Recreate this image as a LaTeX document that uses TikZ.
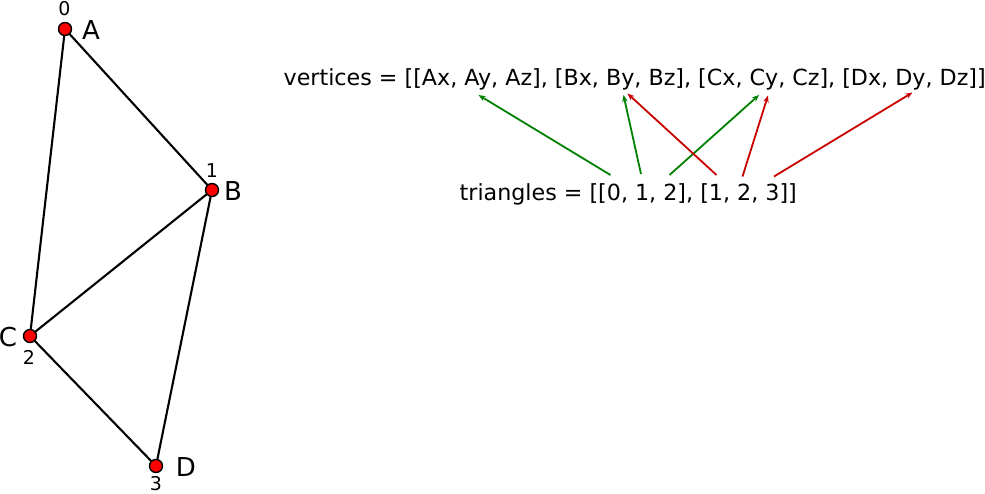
\documentclass[tikz,border=0pt]{standalone}
\usepackage{fontspec}
\setmainfont{DejaVu Sans}
\usetikzlibrary{arrows.meta}
\definecolor{vred}{RGB}{255,0,0}
\definecolor{ared}{RGB}{200,0,0}
\definecolor{agreen}{RGB}{0,128,0}
\tikzset{
  vtx/.style={circle,draw=black,fill=vred,line width=1.4pt,inner sep=0pt,minimum size=13pt},
  edge/.style={line width=2.1pt,black},
  big/.style={font=\fontsize{26}{28}\selectfont,inner sep=0pt},
  idx/.style={font=\fontsize{19}{21}\selectfont,inner sep=0pt},
  code/.style={font=\fontsize{22.2}{24}\selectfont,inner sep=0pt,anchor=base west},
  arr/.style={line width=1.8pt,-{Stealth[length=7pt,width=5.5pt]}},
  garr/.style={arr,agreen},
  rarr/.style={arr,ared}
}
\begin{document}
\begin{tikzpicture}[x=1pt,y=-1pt]
\useasboundingbox (0,0) rectangle (985,493);
\coordinate (pA) at (65,29);
\coordinate (pB) at (212,190);
\coordinate (pC) at (30,336);
\coordinate (pD) at (156,466);
\draw[edge] (pA) -- (pB);
\draw[edge] (pA) -- (pC);
\draw[edge] (pB) -- (pC);
\draw[edge] (pB) -- (pD);
\draw[edge] (pC) -- (pD);
\node[vtx] (A) at (pA) {};
\node[vtx] (B) at (pB) {};
\node[vtx] (C) at (pC) {};
\node[vtx] (D) at (pD) {};
\node[big] (lA) at (91,30) {A};
\node[big] (lB) at (233,191) {B};
\node[big] (lC) at (8,337) {C};
\node[big] (lD) at (186,467) {D};
\node[idx] (n0) at (64.5,9) {0};
\node[idx] (n1) at (212,171) {1};
\node[idx] (n2) at (29,357.5) {2};
\node[idx] (n3) at (156,484) {3};
\node[code] (vert) at (283.5,85) {vertices = [[Ax, Ay, Az], [Bx, By, Bz], [Cx, Cy, Cz], [Dx, Dy, Dz]]};
\node[code] (tri) at (459.5,200) {triangles = [[0, 1, 2], [1, 2, 3]]};
\coordinate (g1s) at (610.5,175);  \coordinate (g1e) at (478.5,95);
\coordinate (g2s) at (641,174);    \coordinate (g2e) at (623.5,95);
\coordinate (g3s) at (669.5,175);  \coordinate (g3e) at (759,95);
\coordinate (r1s) at (716.5,175);  \coordinate (r1e) at (627.5,93.5);
\coordinate (r2s) at (742.5,176.5);\coordinate (r2e) at (768,95.5);
\coordinate (r3s) at (774,176.5);  \coordinate (r3e) at (912.5,92.5);
\draw[garr] (g1s) -- (g1e);
\draw[garr] (g2s) -- (g2e);
\draw[garr] (g3s) -- (g3e);
\draw[rarr] (r1s) -- (r1e);
\draw[rarr] (r2s) -- (r2e);
\draw[rarr] (r3s) -- (r3e);
\end{tikzpicture}
\end{document}
